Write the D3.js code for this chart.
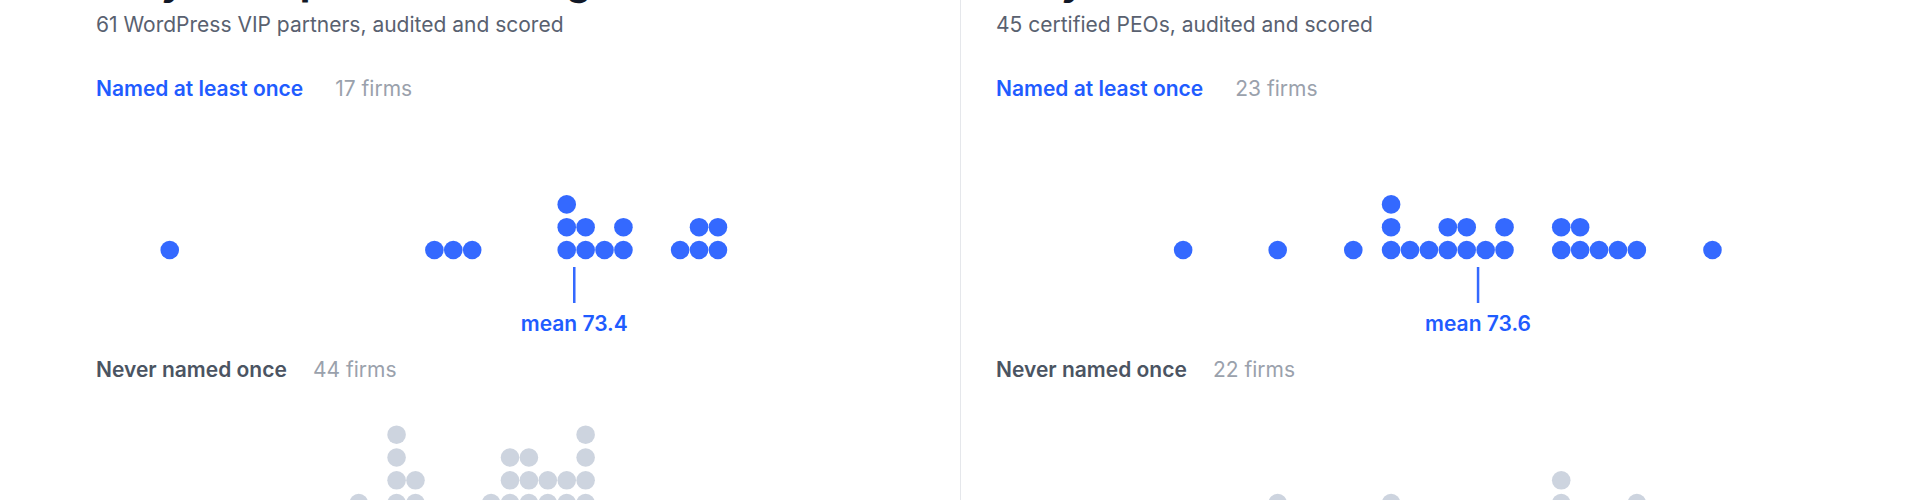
<!DOCTYPE html>
<html>
<head>
<meta charset="utf-8">
<script src="https://cdn.jsdelivr.net/npm/d3@7"></script>
<style>
  html, body { margin: 0; padding: 0; background: #fff; overflow: hidden; }
  svg { display: block; font-family: Inter, 'Noto Sans', sans-serif; }
</style>
</head>
<body>
<div id="chart"></div>
<script>
// Panel texts
const titles = ['Only 1 in 4 partners ever gets named', 'Only half of PEOs are ever named']
const subtitles = ['61 WordPress VIP partners, audited and scored', '45 certified PEOs, audited and scored']
const groupLabels = ['Named at least once', 'Never named once']

// Audit scores, one value per firm
const namedWP = [52, 66, 67, 68, 73, 73, 73, 74, 74, 75, 76, 76, 79, 80, 80, 81, 81]
const neverWP = [49, 53, 55, 57, 58, 60, 61, 62, 62, 63, 64, 64, 64, 64, 64, 65, 65, 65, 66, 67, 68,
  69, 69, 70, 70, 70, 70, 71, 71, 71, 71, 72, 72, 72, 73, 73, 73, 74, 74, 74, 74, 74, 76, 78]
const namedPEO = [58, 63, 67, 69, 69, 69, 70, 71, 72, 72, 73, 73, 74, 75, 75, 78, 78, 79, 79, 80, 81, 82, 86]
const neverPEO = [50, 54, 59, 61, 63, 63, 65, 66, 69, 69, 71, 73, 74, 76, 78, 78, 78, 80, 82, 82, 84, 88]
const means = [73.4, 73.6]

const width = 1920
const height = 500
const panelLeft = [96, 996]
const panelWidth = 828

const blue = '#3469ff'
const blueText = '#1f5cff'
const grey = '#cdd4df'

const svg = d3.select('#chart').append('svg')
  .attr('width', width)
  .attr('height', height)

// divider between the two panels
svg.append('line')
  .attr('x1', 960.5).attr('x2', 960.5)
  .attr('y1', 0).attr('y2', height)
  .attr('stroke', '#e5e7eb')
  .attr('stroke-width', 1)

const x = d3.scaleLinear().domain([48.1, 91.9]).range([0, panelWidth])
const yNamed = d3.scaleLinear().domain([0, 1]).range([250, 227.2])
const yNever = d3.scaleLinear().domain([0, 1]).range([525.9, 503.1])

// give each firm a row inside its score column
const stack = (scores) => {
  const seen = new Map()
  return scores.map((s) => {
    const row = seen.get(s) || 0
    seen.set(s, row + 1)
    return { score: s, row: row }
  })
}

const panels = [
  { named: namedWP, never: neverWP },
  { named: namedPEO, never: neverPEO },
]

panels.forEach((p, i) => {
  const g = svg.append('g').attr('transform', `translate(${panelLeft[i]},0)`)

  // title sits mostly above the visible area
  g.append('text')
    .attr('x', 0).attr('y', -5.5)
    .attr('fill', '#111827')
    .style('font-size', '39px')
    .style('font-weight', 700)
    .text(titles[i])

  g.append('text')
    .attr('x', 0).attr('y', 31.7)
    .attr('fill', '#596170')
    .style('font-size', '21px')
    .text(subtitles[i])

  // group headers with firm counts
  const header = (label, count, y, color, gap) => {
    const t = g.append('text')
      .attr('x', 0).attr('y', y)
      .attr('fill', color)
      .style('font-size', '21px')
      .style('font-weight', 600)
      .text(label)
    const w = t.node().getComputedTextLength()
    g.append('text')
      .attr('x', w + gap).attr('y', y)
      .attr('fill', '#9aa1ac')
      .style('font-size', '21px')
      .text(`${count} firms`)
  }
  header(groupLabels[0], p.named.length, 96, blueText, 32)
  header(groupLabels[1], p.never.length, 376.5, '#4b5462', 26)

  g.append('g')
    .selectAll('circle')
    .data(stack(p.named))
    .join('circle')
    .attr('cx', (d) => x(d.score))
    .attr('cy', (d) => yNamed(d.row))
    .attr('r', 9.3)
    .attr('fill', blue)

  // mean marker
  g.append('line')
    .attr('x1', x(means[i])).attr('x2', x(means[i]))
    .attr('y1', 267).attr('y2', 303)
    .attr('stroke', blue)
    .attr('stroke-width', 2.5)

  g.append('text')
    .attr('x', x(means[i])).attr('y', 331)
    .attr('text-anchor', 'middle')
    .attr('fill', blueText)
    .style('font-size', '21px')
    .style('font-weight', 600)
    .text(`mean ${means[i]}`)

  g.append('g')
    .selectAll('circle')
    .data(stack(p.never))
    .join('circle')
    .attr('cx', (d) => x(d.score))
    .attr('cy', (d) => yNever(d.row))
    .attr('r', 9.3)
    .attr('fill', grey)
})
</script>
</body>
</html>
